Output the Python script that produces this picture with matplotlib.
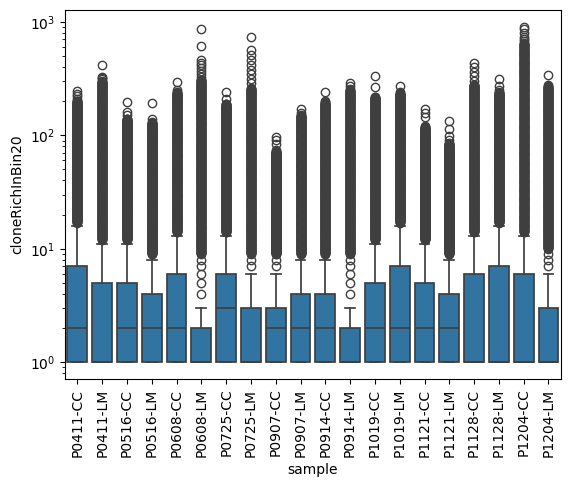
import numpy as np
import matplotlib
matplotlib.use("Agg")
import matplotlib.pyplot as plt

# Samples and box statistics (log axis)
samples = ["P0411-CC", "P0411-LM", "P0516-CC", "P0516-LM", "P0608-CC",
           "P0608-LM", "P0725-CC", "P0725-LM", "P0907-CC", "P0907-LM",
           "P0914-CC", "P0914-LM", "P1019-CC", "P1019-LM", "P1121-CC",
           "P1121-LM", "P1128-CC", "P1128-LM", "P1204-CC", "P1204-LM"]
q1 = [1] * 20
medians = [2, 1, 2, 2, 2, 1, 3, 1, 2, 2, 2, 1, 2, 2, 2, 2, 1, 1, 1, 1]
q3 = [7, 5, 5, 4, 6, 2, 6, 3, 3, 4, 4, 2, 5, 7, 5, 4, 6, 7, 6, 3]
whis_hi = [16, 11, 11, 8, 13, 3, 13, 6, 6, 8, 8, 3, 11, 16, 11, 8, 13, 16, 13, 6]
# outliers: separate integer values just above the whisker, then a packed
# run of values from solid_start to dense_top, plus sparse high ones
solid_start = [16, 11, 11, 8, 13, 8, 13, 8, 8, 8,
               8, 8, 11, 16, 11, 8, 13, 16, 13, 9]
dense_top = [200, 300, 140, 130, 240, 310, 190, 260, 72, 150,
             195, 250, 218, 235, 118, 85, 280, 240, 650, 270]
sparse_fliers = [
    [210, 220, 230, 247],
    [312, 318, 324, 415],
    [151, 161, 195],
    [139, 191],
    [250, 298],
    [330, 350, 370, 390, 415, 430, 459, 610, 873],
    [207, 240],
    [287, 313, 346, 380, 421, 459, 508, 563, 732],
    [74, 84, 91, 97],
    [156, 169],
    [200, 242],
    [254, 271, 287],
    [264, 334],
    [242, 271],
    [122, 146, 156, 169],
    [91, 99, 113, 134],
    [302, 331, 363, 401, 438],
    [250, 271, 311],
    [680, 700, 740, 800, 860, 902],
    [277, 339],
]

stats = []
for i, name in enumerate(samples):
    fl = list(range(whis_hi[i] + 1, solid_start[i] + 1))
    fl += list(np.geomspace(solid_start[i] + 1, dense_top[i], 400))
    fl += sparse_fliers[i]
    stats.append(dict(label=name, q1=q1[i], med=medians[i], q3=q3[i],
                      whislo=q1[i], whishi=whis_hi[i], fliers=np.array(fl)))

line_color = "#3f3f3f"
box_color = "#3274a1"

fig = plt.figure(figsize=(5.7, 4.87), dpi=100)
ax = fig.add_axes([0.114, 0.222, 0.870, 0.757])
ax.set_yscale("log")

ax.bxp(stats, positions=range(len(samples)), widths=0.8, patch_artist=True,
       boxprops=dict(facecolor=box_color, edgecolor=line_color, linewidth=1.25),
       medianprops=dict(color=line_color, linewidth=1.25),
       whiskerprops=dict(color=line_color, linewidth=1.25),
       capprops=dict(color=line_color, linewidth=1.25),
       flierprops=dict(marker="o", markerfacecolor="none",
                       markeredgecolor=line_color, markersize=6, linewidth=1.25))

ax.set_xlim(-0.5, len(samples) - 0.5)
ax.set_xticks(range(len(samples)))
ax.set_xticklabels(samples, rotation=90)
ax.set_xlabel("sample")
ax.set_ylabel("cloneRichInBin20")

fig.savefig("out.png", dpi=100)
